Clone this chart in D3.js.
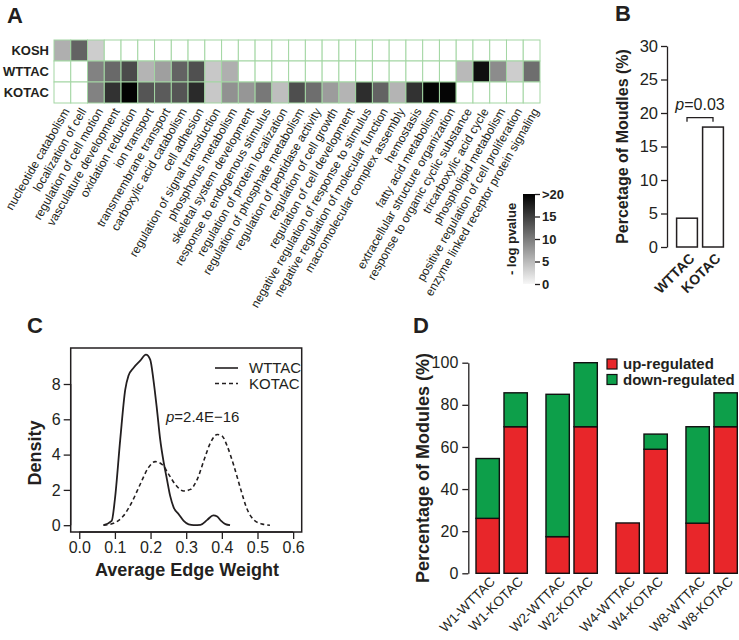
<!DOCTYPE html>
<html><head><meta charset="utf-8">
<script src="https://cdn.jsdelivr.net/npm/d3@7"></script>
<style>body{margin:0;background:#fff} svg{display:block} text{font-family:"Liberation Sans",Arial,sans-serif;fill:#231f20}</style>
</head><body><svg id="c" width="739" height="640"></svg>
<script>
// ---------- Panel A data ----------
const goTerms = ["nucleotide catabolism","localization of cell","regulation of cell motion","vasculature development","oxidation reduction","ion transport","transmembrane transport","carboxylic acid catabolism","cell adhesion","regulation of signal transduction","phosphorus metabolism","skeletal system development","response to endogenous stimulus","regulation of protein localization","regulation of phosphate metabolism","regulation of peptidase activity","regulation of cell growth","regulation of cell development","negative regulation of response to stimulus","negative regulation of molecular function","macromolecular complex assembly","hemostasis","fatty acid metabolism","extracellular structure organization","response to organic cyclic substance","tricarboxylic acid cycle","phospholipid metabolism","positive regulation of cell proliferation","enzyme linked receptor protein signaling"];
const heatRows = ["KOSH","WTTAC","KOTAC"];
const koshScores  = [6.3,12.2,3.9,0,0,0,0,0,0,0,0,0,0,0,0,0,0,0,0,0,0,0,0,0,0,0,0,0,0];
const wttacScores = [0,0,9.8,11.8,14.1,5.9,7.5,12.2,13.7,4.3,6.3,0,0,0,0,0,0,0,0,0,0,0,0,0,5.5,18.8,9.0,3.9,11.4];
const kotacScores = [0,0,9.8,16.1,19.8,13.3,12.9,13.3,16.7,4.3,8.6,8.2,10.6,5.1,13.9,11.4,7.8,5.9,16.5,12.2,5.9,16.1,19.6,19.6,0,0,0,0,0];
const colorbarTicks = [0,5,10,15,20];
const colorbarLabels = ["0","5","10","15",">20"];

// ---------- Panel B data ----------
const bGroups = ["WTTAC","KOTAC"];
const bValues = [4.3,17.9];
const bTicks = [0,5,10,15,20,25,30];

// ---------- Panel C data ----------
const wttacDensity = [[0.068,0],[0.091,0.24],[0.100,1.47],[0.115,4.86],[0.129,7.68],[0.138,8.47],[0.152,8.91],[0.171,9.32],[0.187,9.66],[0.199,9.38],[0.208,8.25],[0.218,6.55],[0.227,4.86],[0.237,3.54],[0.246,2.6],[0.255,1.66],[0.265,1.0],[0.279,0.62],[0.293,0.24],[0.307,0.04],[0.321,0],[0.340,0.02],[0.359,0.3],[0.376,0.56],[0.387,0.49],[0.398,0.24],[0.410,0.06],[0.423,0]];
const kotacDensity = [[0.068,0],[0.096,0.11],[0.124,0.53],[0.147,1.28],[0.171,2.32],[0.194,3.26],[0.213,3.6],[0.232,3.45],[0.251,2.88],[0.269,2.32],[0.293,1.94],[0.312,2.03],[0.331,2.6],[0.349,3.63],[0.368,4.67],[0.387,5.14],[0.401,5.05],[0.415,4.48],[0.434,3.35],[0.453,2.03],[0.471,0.9],[0.490,0.3],[0.514,0.06],[0.535,0]];
const cXTicks = [0,0.1,0.2,0.3,0.4,0.5,0.6];
const cYTicks = [0,2,4,6,8];

// ---------- Panel D data ----------
const dCategories = ["W1-WTTAC","W1-KOTAC","W2-WTTAC","W2-KOTAC","W4-WTTAC","W4-KOTAC","W8-WTTAC","W8-KOTAC"];
const dUp   = [26.1,69.6,17.4,69.6,23.9,58.9,23.8,69.6];
const dDown = [28.4,16.1,67.6,30.4,0,7.2,45.8,16.1];
const dTicks = [0,20,40,60,80,100];
const dLegend = ["up-regulated","down-regulated"];
const dColors = ["#e8262a","#0d9f4a"];

const svg = d3.select("#c");
const FONT = '"Liberation Sans",Arial,sans-serif';

function panelLabel(t,x,y){ svg.append("text").attr("x",x).attr("y",y).attr("font-size",22).attr("font-weight","bold").text(t); }

// ================= Panel A =================
panelLabel("A",7,23);
const hx = d3.scaleBand().domain(goTerms).range([54,540]);
const hy = d3.scaleBand().domain(heatRows).range([40,103]);
const grey = d3.scaleLinear().domain([0,20]).range(["#ffffff","#000000"]).clamp(true);
const rowVals = [koshScores,wttacScores,kotacScores];
const heatData = [];
heatRows.forEach((r,ri)=>goTerms.forEach((t,i)=>heatData.push({r,t,v:rowVals[ri][i]})));
const gA = svg.append("g");
gA.selectAll("rect").data(heatData).join("rect")
  .attr("x",d=>hx(d.t)).attr("y",d=>hy(d.r))
  .attr("width",hx.bandwidth()).attr("height",hy.bandwidth())
  .attr("fill",d=>grey(d.v)).attr("stroke","#a3d6a3").attr("stroke-width",1);
gA.selectAll("text.row").data(heatRows).join("text").attr("class","row")
  .attr("x",49).attr("y",d=>hy(d)+hy.bandwidth()/2).attr("dy","0.36em")
  .attr("text-anchor","end").attr("font-size",13).attr("font-weight","bold").text(d=>d);
gA.selectAll("text.col").data(goTerms).join("text").attr("class","col")
  .attr("transform",d=>`translate(${hx(d)+hx.bandwidth()/2+4},109) rotate(-60)`)
  .attr("text-anchor","end").attr("dy","0.35em").attr("font-size",12).text(d=>d);

// colorbar
const cbY = d3.scaleLinear().domain([0,20]).range([284,194]);
const defs = svg.append("defs");
const lg = defs.append("linearGradient").attr("id","cbg").attr("x1",0).attr("y1",1).attr("x2",0).attr("y2",0);
lg.append("stop").attr("offset","0%").attr("stop-color",grey(0.6));
lg.append("stop").attr("offset","100%").attr("stop-color",grey(20));
svg.append("rect").attr("x",523).attr("y",cbY(20)).attr("width",12).attr("height",cbY(0)-cbY(20)).attr("fill","url(#cbg)");
const cbAxis = d3.axisRight(cbY).tickValues(colorbarTicks).tickFormat((d,i)=>colorbarLabels[i]).tickSize(5).tickPadding(2);
const cbG = svg.append("g").attr("transform","translate(535,0)").call(cbAxis);
cbG.select(".domain").remove();
cbG.selectAll("line").attr("stroke","#231f20").attr("stroke-width",1.3);
cbG.selectAll("text").attr("font-size",13).attr("font-weight","bold").attr("font-family",FONT).attr("fill","#231f20");
svg.append("text").attr("transform",`translate(516,${(cbY(0)+cbY(20))/2}) rotate(-90)`)
  .attr("text-anchor","middle").attr("font-size",13).attr("font-weight","bold").text("- log pvalue");

// ================= Panel B =================
panelLabel("B",615,21);
const bY = d3.scaleLinear().domain([0,30]).range([247,46]);
const bX = d3.scaleBand().domain(bGroups).range([674,726]).paddingInner(0.2).paddingOuter(0.1);
const bAxis = d3.axisLeft(bY).tickValues(bTicks).tickSize(6).tickPadding(3).tickSizeOuter(0);
const bG = svg.append("g").attr("transform","translate(667,0)").call(bAxis);
bG.selectAll("path,line").attr("stroke","#231f20").attr("stroke-width",1.3);
bG.selectAll("text").attr("font-size",16.5).attr("font-family",FONT).attr("fill","#231f20");
svg.append("g").selectAll("rect").data(bValues).join("rect")
  .attr("x",(d,i)=>bX(bGroups[i])).attr("y",d=>bY(d))
  .attr("width",bX.bandwidth()).attr("height",d=>bY(0)-bY(d))
  .attr("fill","#fff").attr("stroke","#231f20").attr("stroke-width",1.5);
svg.append("text").attr("transform",`translate(628,${(bY(0)+bY(30))/2}) rotate(-90)`)
  .attr("text-anchor","middle").attr("font-size",16).attr("font-weight","bold").text("Percetage of Moudles (%)");
svg.append("g").selectAll("text").data(bGroups).join("text")
  .attr("transform",d=>`translate(${bX(d)+bX.bandwidth()/2+5},256) rotate(-45)`)
  .attr("text-anchor","end").attr("dy","0.35em").attr("font-size",14).attr("font-weight","bold").text(d=>d);
// p bracket
const bc1 = bX("WTTAC")+bX.bandwidth()/2, bc2 = bX("KOTAC")+bX.bandwidth()/2, by = bY(19.3);
svg.append("path").attr("d",`M${bc1},${by+4}V${by}H${bc2}V${by+4}`).attr("fill","none").attr("stroke","#231f20").attr("stroke-width",1.3);
const pt = svg.append("text").attr("x",(bc1+bc2)/2).attr("y",bY(20.5)).attr("text-anchor","middle").attr("font-size",16);
pt.append("tspan").attr("font-style","italic").text("p");
pt.append("tspan").text("=0.03");

// ================= Panel C =================
panelLabel("C",27,333);
const cX = d3.scaleLinear().domain([-0.024,0.624]).range([70.7,301.7]);
const cY = d3.scaleLinear().domain([-0.386,10.04]).range([532,348]);
svg.append("rect").attr("x",cX(-0.024)).attr("y",cY(10.04)).attr("width",cX(0.624)-cX(-0.024)).attr("height",cY(-0.386)-cY(10.04))
  .attr("fill","none").attr("stroke","#231f20").attr("stroke-width",1.5);
const cxG = svg.append("g").attr("transform",`translate(0,${cY(-0.386)})`)
  .call(d3.axisBottom(cX).tickValues(cXTicks).tickFormat(d3.format(".1f")).tickSize(7).tickPadding(3).tickSizeOuter(0));
cxG.select(".domain").attr("d",`M${cX(0)},0H${cX(0.6)}`);
cxG.selectAll("path,line").attr("stroke","#231f20").attr("stroke-width",1.3);
cxG.selectAll("text").attr("font-size",16).attr("font-family",FONT).attr("fill","#231f20");
const cyG = svg.append("g").attr("transform",`translate(${cX(-0.024)},0)`)
  .call(d3.axisLeft(cY).tickValues(cYTicks).tickSize(7).tickPadding(3).tickSizeOuter(0));
cyG.select(".domain").attr("d",`M0,${cY(0)}V${cY(8)}`);
cyG.selectAll("path,line").attr("stroke","#231f20").attr("stroke-width",1.3);
cyG.selectAll("text").attr("font-size",16).attr("font-family",FONT).attr("fill","#231f20");
const cLine = d3.line().x(d=>cX(d[0])).y(d=>cY(d[1])).curve(d3.curveMonotoneX);
svg.append("path").datum(wttacDensity).attr("d",cLine).attr("fill","none").attr("stroke","#231f20").attr("stroke-width",1.8);
svg.append("path").datum(kotacDensity).attr("d",cLine).attr("fill","none").attr("stroke","#231f20").attr("stroke-width",1.6).attr("stroke-dasharray","4,3");
svg.append("text").attr("x",187).attr("y",576).attr("text-anchor","middle").attr("font-size",18).attr("font-weight","bold").text("Average Edge Weight");
svg.append("text").attr("transform",`translate(41,453) rotate(-90)`).attr("text-anchor","middle").attr("font-size",18).attr("font-weight","bold").text("Density");
const legC = [["WTTAC",null],["KOTAC","4,3"]];
legC.forEach((l,i)=>{
  const yy = 368 + i*15.5;
  svg.append("line").attr("x1",215).attr("x2",238).attr("y1",yy).attr("y2",yy).attr("stroke","#231f20").attr("stroke-width",1.6).attr("stroke-dasharray",l[1]);
  svg.append("text").attr("x",249).attr("y",yy).attr("dy","0.36em").attr("font-size",15).text(l[0]);
});
const cp = svg.append("text").attr("x",166).attr("y",422).attr("font-size",15);
cp.append("tspan").attr("font-style","italic").text("p");
cp.append("tspan").text("=2.4E\u221216");

// ================= Panel D =================
panelLabel("D",413,333);
const dY = d3.scaleLinear().domain([0,100]).range([573.3,362.7]);
const unit = 23.33;
const dX = d3.scaleLinear().domain([0,1]).range([468.3,468.3+unit]);
const barLeft = i => dX(0.33 + Math.floor(i/2)*3 + (i%2)*1.2);
const dyG = svg.append("g").attr("transform","translate(468.3,0)")
  .call(d3.axisLeft(dY).tickValues(dTicks).tickSize(6).tickPadding(4).tickSizeOuter(0));
dyG.selectAll("path,line").attr("stroke","#231f20").attr("stroke-width",1.3);
dyG.selectAll("text").attr("font-size",16).attr("font-family",FONT).attr("fill","#231f20");
const dData = dCategories.map((c,i)=>({c,i,up:dUp[i],down:dDown[i]}));
const gD = svg.append("g");
gD.selectAll("rect.up").data(dData).join("rect").attr("class","up")
  .attr("x",d=>barLeft(d.i)).attr("y",d=>dY(d.up)).attr("width",dX(1)-dX(0)).attr("height",d=>dY(0)-dY(d.up))
  .attr("fill",dColors[0]).attr("stroke","#111").attr("stroke-width",1.4);
gD.selectAll("rect.down").data(dData.filter(d=>d.down>0)).join("rect").attr("class","down")
  .attr("x",d=>barLeft(d.i)).attr("y",d=>dY(d.up+d.down)).attr("width",dX(1)-dX(0)).attr("height",d=>dY(d.up)-dY(d.up+d.down))
  .attr("fill",dColors[1]).attr("stroke","#111").attr("stroke-width",1.4);
gD.selectAll("text").data(dData).join("text")
  .attr("transform",d=>`translate(${barLeft(d.i)+(dX(1)-dX(0))/2+5},579) rotate(-45)`)
  .attr("text-anchor","end").attr("dy","0.35em").attr("font-size",13.5).text(d=>d.c);
svg.append("text").attr("transform",`translate(429,468) rotate(-90)`).attr("text-anchor","middle").attr("font-size",18).attr("font-weight","bold").text("Percentage of Modules (%)");
dLegend.forEach((l,i)=>{
  const yy = 364 + i*15.5;
  svg.append("rect").attr("x",607).attr("y",yy-5).attr("width",10).attr("height",10).attr("fill",dColors[i]).attr("stroke","#111").attr("stroke-width",1.2);
  svg.append("text").attr("x",623).attr("y",yy).attr("dy","0.36em").attr("font-size",15).attr("font-weight","bold").text(l);
});
</script></body></html>
